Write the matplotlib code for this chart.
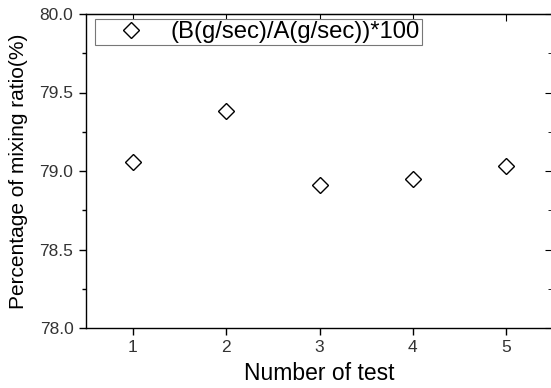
import matplotlib
matplotlib.use("Agg")
import matplotlib.pyplot as plt
from matplotlib.ticker import MultipleLocator, FormatStrFormatter

# values
tests = [1, 2, 3, 4, 5]
ratio = [79.06, 79.38, 78.91, 78.95, 79.03]
series_label = "(B(g/sec)/A(g/sec))*100"

plt.rcParams['font.family'] = ['Liberation Sans', 'DejaVu Sans']

fig = plt.figure(figsize=(5.51, 3.88), dpi=100)
# right spine sits just past the picture edge, as in the reference
ax = fig.add_axes([86 / 551, 1 - 328 / 388, 467 / 551, 314 / 388])

ax.plot(tests, ratio, linestyle="none", marker="D", markersize=8.3,
        markerfacecolor="white", markeredgecolor="black", markeredgewidth=1.0,
        label=series_label)

ax.set_xlim(0.5, 5.5)
ax.set_ylim(78.0, 80.0)
ax.xaxis.set_major_locator(MultipleLocator(1))
ax.yaxis.set_major_locator(MultipleLocator(0.5))
ax.yaxis.set_minor_locator(MultipleLocator(0.25))
ax.yaxis.set_major_formatter(FormatStrFormatter("%.1f"))

for s in ax.spines.values():
    s.set_linewidth(1.0)

ax.tick_params(which="both", direction="out", top=False, right=False,
               labelsize=12.5, labelcolor="#333333", width=1.0)
ax.tick_params(which="major", length=5, pad=4)
ax.tick_params(which="minor", length=3)

# mirrored inward ticks on top and right
ax_top = ax.secondary_xaxis("top")
ax_top.xaxis.set_major_locator(MultipleLocator(1))
ax_top.tick_params(direction="in", length=5, labeltop=False)
ax_right = ax.secondary_yaxis("right")
ax_right.yaxis.set_major_locator(MultipleLocator(0.5))
ax_right.yaxis.set_minor_locator(MultipleLocator(0.25))
ax_right.tick_params(which="both", direction="in", labelright=False)
ax_right.tick_params(which="major", length=6)
ax_right.tick_params(which="minor", length=3.5)

ax.set_xlabel("Number of test", fontsize=16.5, labelpad=5)
ax.set_ylabel("Percentage of mixing ratio(%)", fontsize=15, labelpad=8)

leg = ax.legend(loc="upper left", bbox_to_anchor=(0.02, 0.985), fontsize=17.2,
                fancybox=False, framealpha=1, edgecolor="#777777",
                borderpad=0.1, handlelength=2.8, handletextpad=0.25,
                borderaxespad=0)
leg.get_frame().set_linewidth(0.8)

fig.savefig("out.png", dpi=100)
